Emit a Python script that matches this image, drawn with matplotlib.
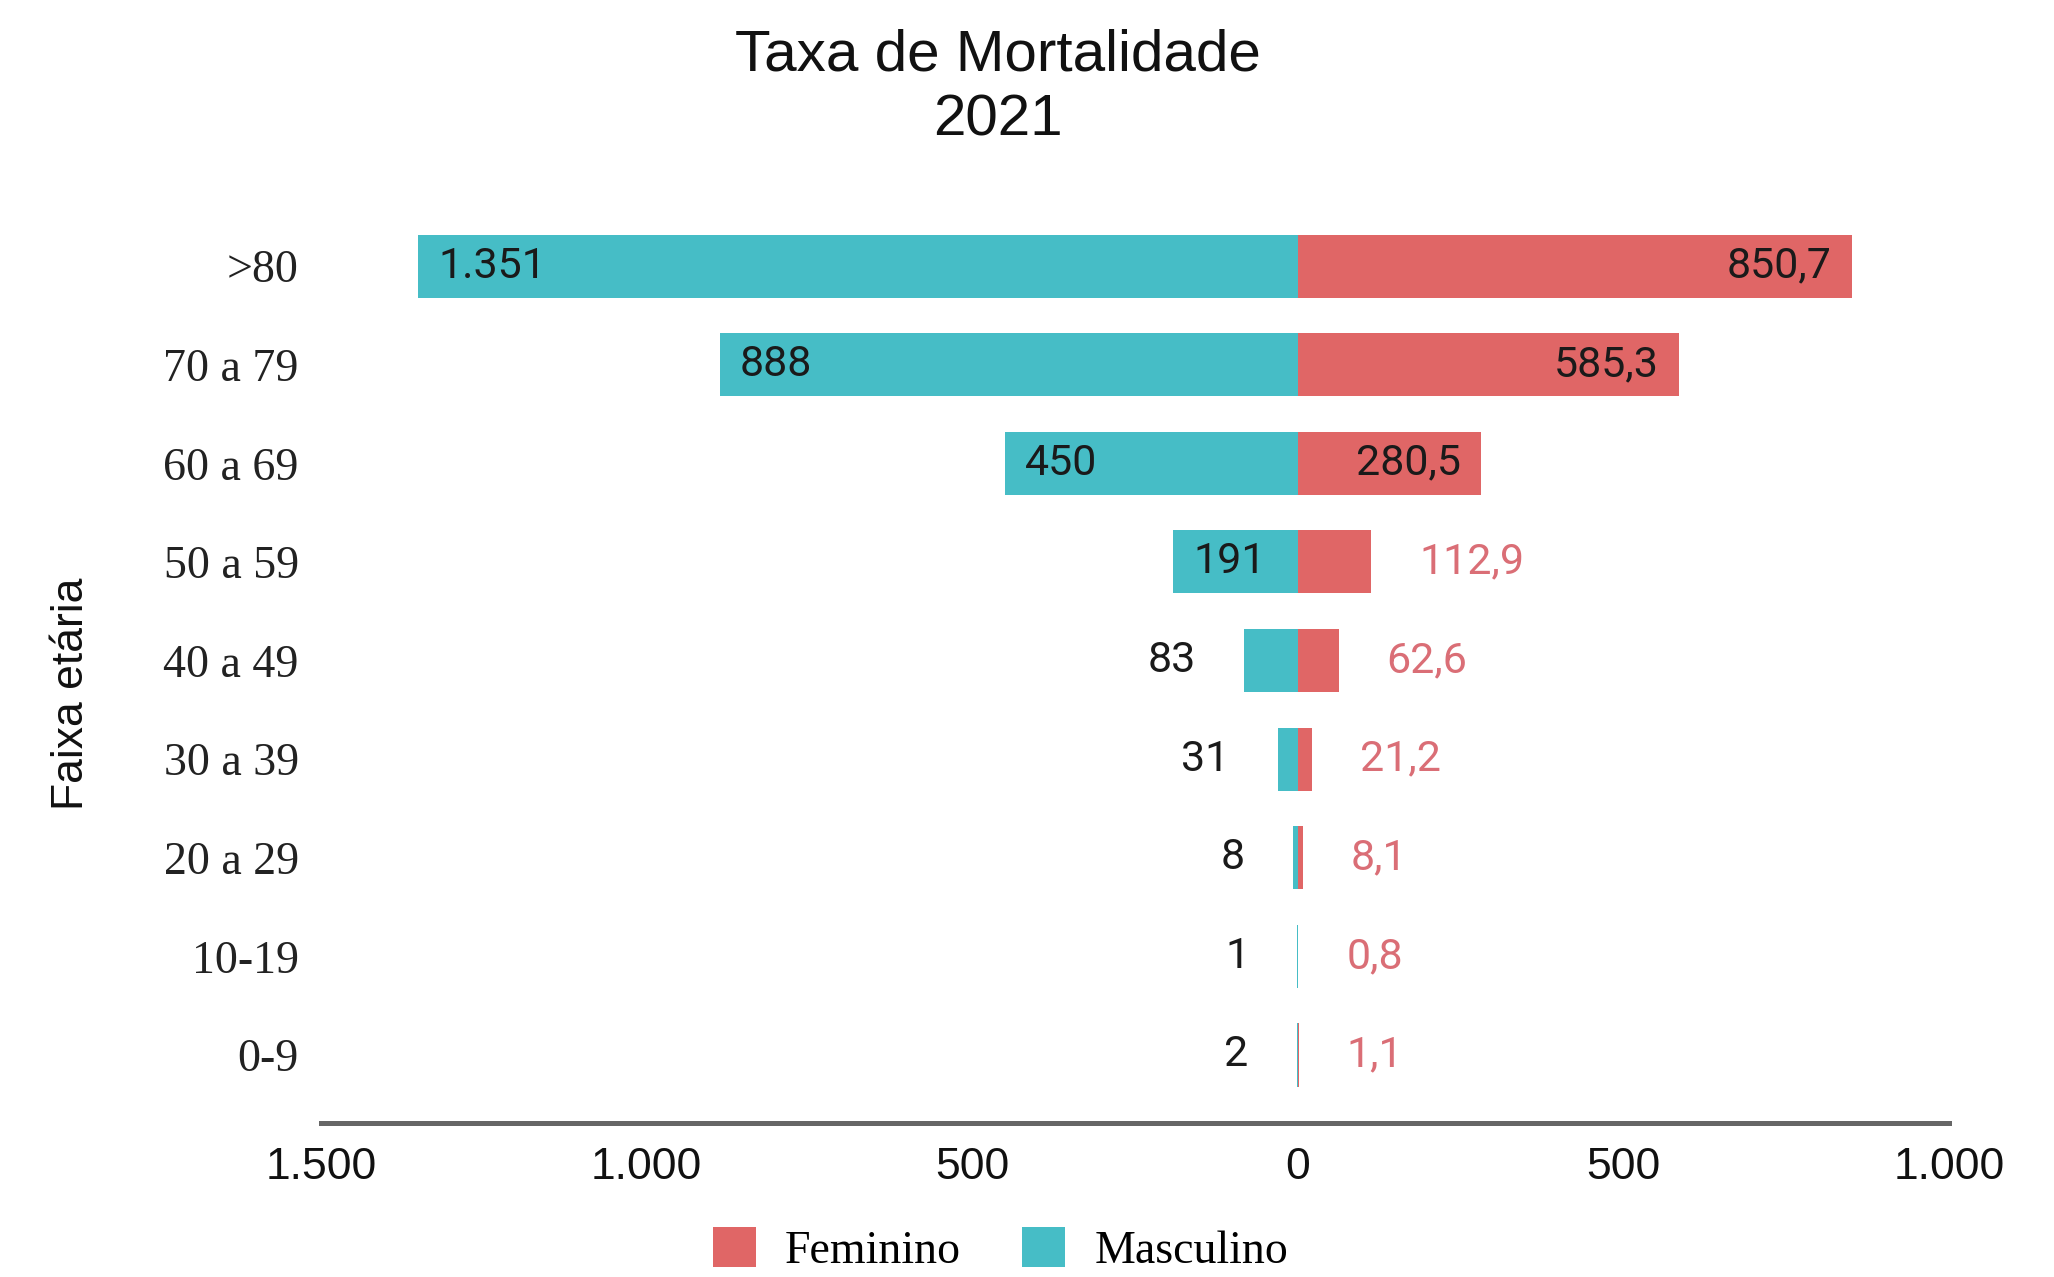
import matplotlib
matplotlib.use("Agg")
import matplotlib.pyplot as plt
from matplotlib import font_manager as fm
from matplotlib.patches import Patch

# ---- data ----
age_groups = ["0-9", "10-19", "20 a 29", "30 a 39", "40 a 49", "50 a 59", "60 a 69", "70 a 79", ">80"]
masculino = [2, 1, 8, 31, 83, 191, 450, 888, 1351]
feminino = [1.1, 0.8, 8.1, 21.2, 62.6, 112.9, 280.5, 585.3, 850.7]
masc_labels = ["2", "1", "8", "31", "83", "191", "450", "888", "1.351"]
fem_labels = ["1,1", "0,8", "8,1", "21,2", "62,6", "112,9", "280,5", "585,3", "850,7"]
xticks = [-1500, -1000, -500, 0, 500, 1000]
xtick_labels = ["1.500", "1.000", "500", "0", "500", "1.000"]
title = "Taxa de Mortalidade\n2021"
ylabel = "Faixa etária"
legend_labels = ["Feminino", "Masculino"]

TEAL = "#46BDC6"
RED = "#E06666"
PINK = "#DA6E76"

names = {f.name for f in fm.fontManager.ttflist}
narrow = "Liberation Sans Narrow" in names
SANS_N = ["Liberation Sans Narrow", "Liberation Sans", "DejaVu Sans"] if narrow else ["Liberation Sans", "DejaVu Sans"]
SERIF = ["Liberation Serif", "DejaVu Serif"]
LBL = ["Roboto", "DejaVu Sans"]

fig = plt.figure(figsize=(20.54, 12.77), dpi=100)
ax = fig.add_axes([0.1563, 0.1206, 0.9489 - 0.1563, 0.8457 - 0.1206])

y = list(range(len(age_groups)))
ax.barh(y, [-v for v in masculino], height=0.64, color=TEAL, linewidth=0)
ax.barh(y, feminino, height=0.64, color=RED, linewidth=0)

ax.set_xlim(-1500, 1000)
ax.set_ylim(-0.69, 8.7)
ax.set_xticks(xticks)
ax.set_xticklabels(xtick_labels, fontsize=44 if narrow else 32, family=SANS_N, color="#111111")
ax.set_yticks(y)
ax.set_yticklabels(age_groups, fontsize=33, family=SERIF, color="#222222")
ax.tick_params(axis="both", length=0)
ax.tick_params(axis="x", pad=17)
ax.tick_params(axis="y", pad=16)
for s in ["top", "right", "left"]:
    ax.spines[s].set_visible(False)
ax.spines["bottom"].set_color("#666666")
ax.spines["bottom"].set_linewidth(3.6)

fig.canvas.draw()
renderer = fig.canvas.get_renderer()
px_per_unit = ax.bbox.width / 2500.0
margin_px = 20
out_px = 48

def text_width(s):
    t = ax.text(0, 0, s, fontsize=31, family=LBL)
    w = t.get_window_extent(renderer).width
    t.remove()
    return w

for i in y:
    # masculino
    v = masculino[i]
    w = text_width(masc_labels[i])
    if v * px_per_unit >= w + 2 * margin_px:
        ax.text(-v + margin_px / px_per_unit, i, masc_labels[i], ha="left", va="center",
                fontsize=31, family=LBL, color="#1a1a1a")
    else:
        ax.text(-v - out_px / px_per_unit, i, masc_labels[i], ha="right", va="center",
                fontsize=31, family=LBL, color="#1a1a1a")
    # feminino
    v = feminino[i]
    w = text_width(fem_labels[i])
    if v * px_per_unit >= w + 2 * margin_px:
        ax.text(v - margin_px / px_per_unit, i, fem_labels[i], ha="right", va="center",
                fontsize=31, family=LBL, color="#1a1a1a")
    else:
        ax.text(v + out_px / px_per_unit, i, fem_labels[i], ha="left", va="center",
                fontsize=31, family=LBL, color=PINK)

fig.text(0.486, 1 - 88 / 1277, title, ha="center", va="center",
         fontsize=48 if narrow else 42, family=SANS_N, linespacing=1.25, color="#111111")
fig.text(0.035, 1 - 694 / 1277, ylabel, rotation=90, ha="center", va="center",
         fontsize=39 if narrow else 32, family=SANS_N, color="#111111")

handles = [Patch(facecolor=RED, edgecolor="none"), Patch(facecolor=TEAL, edgecolor="none")]
leg = fig.legend(handles, legend_labels, loc="center", bbox_to_anchor=(0.487, 1 - 1250 / 1277),
                 ncol=2, frameon=False, prop={"family": SERIF, "size": 33},
                 handlelength=0.94, handleheight=0.94, handletextpad=0.63, columnspacing=1.35,
                 borderaxespad=0, borderpad=0)

fig.savefig("out.png", dpi=100, facecolor="white")
